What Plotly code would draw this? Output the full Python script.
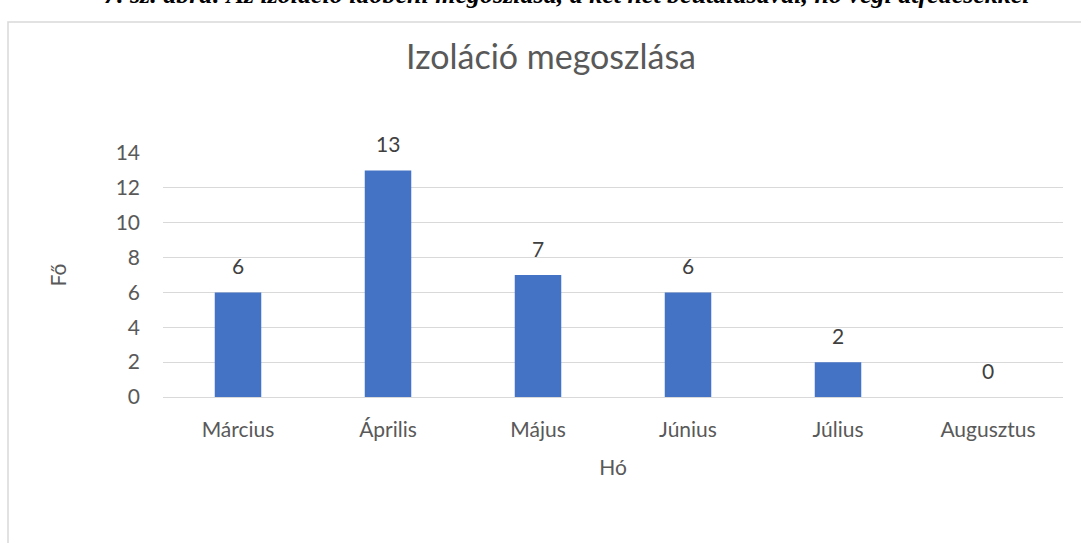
import plotly.graph_objects as go

months = ["Március", "Április", "Május", "Június", "Július", "Augusztus"]
people = [6, 13, 7, 6, 2, 0]
y_ticks = [0, 2, 4, 6, 8, 10, 12, 14]

title_text = "Izoláció megoszlása"
caption_text = "7. sz. ábra: Az izoláció időbeni megoszlása, a két hét beutalásával, hó végi átfedésekkel"

W, H = 1081, 543
L, R, T, B = 163, 18, 153, 146
PW, PH = W - L - R, H - T - B
FONT = "Lato"
GREY = "#595959"

fig = go.Figure()
fig.add_trace(go.Bar(
    x=months, y=people, marker_color="#4472C4", width=0.31,
    marker_line_width=0, hoverinfo="x+y",
))

annotations = []
for m, v in zip(months, people):
    annotations.append(dict(
        x=m, y=v, xref="x", yref="y", text=str(v), showarrow=False,
        yanchor="bottom", yshift=12,
        font=dict(family=FONT, size=21, color="#404040"),
    ))

annotations.append(dict(
    x=0.5, y=(H - B - 55) / PH, xref="paper", yref="paper",
    text=title_text, showarrow=False, yanchor="middle", xanchor="center",
    xshift=(551 - (L + PW / 2)),
    font=dict(family=FONT, size=34, color=GREY),
))

annotations.append(dict(
    x=0.5, y=(H - B - 14) / PH, xref="paper", yref="paper",
    text="<b><i>" + caption_text + "</i></b>", showarrow=False,
    yanchor="bottom", xanchor="center", yshift=3,
    xshift=(567 - (L + PW / 2)),
    font=dict(family="Liberation Serif", size=26, color="#000000"),
))

fig.update_layout(
    width=W, height=H,
    margin=dict(l=L, r=R, t=T, b=B, pad=0),
    paper_bgcolor="white", plot_bgcolor="white",
    showlegend=False,
    annotations=annotations,
    shapes=[dict(
        type="rect", xref="paper", yref="paper",
        x0=(8 - L) / PW, x1=(1090 - L) / PW,
        y0=(H - B - 560) / PH, y1=(H - B - 22) / PH,
        line=dict(color="#d9d9d9", width=1.5), fillcolor="rgba(0,0,0,0)",
        layer="below",
    )],
    xaxis=dict(
        showgrid=False, showline=False, zeroline=False, ticks="",
        tickfont=dict(family=FONT, size=21, color=GREY),
        ticklabelstandoff=18,
        title=dict(text="Hó", font=dict(family=FONT, size=21, color=GREY), standoff=20),
    ),
    yaxis=dict(
        range=[0, 14], tickvals=y_ticks, showgrid=True, gridcolor="#d9d9d9",
        gridwidth=1.3, zeroline=True, zerolinecolor="#d9d9d9", zerolinewidth=1.3,
        showline=False, ticks="",
        tickfont=dict(family=FONT, size=21, color=GREY),
        ticklabelstandoff=22,
        title=dict(text="Fő", font=dict(family=FONT, size=21, color=GREY), standoff=43),
    ),
)

fig.write_html(
    "out.html",
    config={"displayModeBar": False},
    post_script="document.body.style.margin='0';document.body.style.overflow='hidden';",
)
